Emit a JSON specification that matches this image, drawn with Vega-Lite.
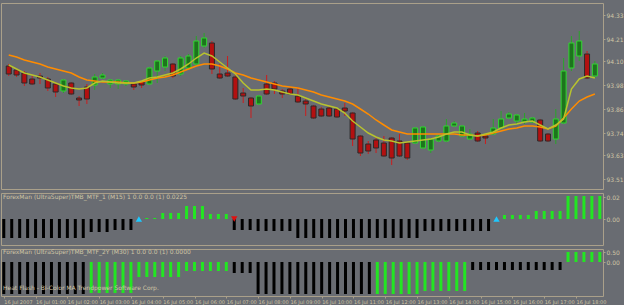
{
  "$schema": "https://vega.github.io/schema/vega-lite/v6.json",
  "background": "#696c72",
  "padding": {"left": 0, "top": 2, "right": 0, "bottom": 0},
  "spacing": 2,
  "config": {
    "view": {"stroke": "#aaa08a", "strokeWidth": 1},
    "axis": {"domain": false, "grid": false, "title": null, "tickColor": "#aaa08a", "tickSize": 2, "labelColor": "#cfc5a5", "labelFont": "DejaVu Sans", "labelFontSize": 6, "labelPadding": 1, "labelOverlap": false, "tickCount": 40},
    "text": {"font": "DejaVu Sans", "fontSize": 6}
  },
  "datasets": {
    "bars": [
      {"i":0,"o":94.075,"h":94.085,"l":94.025,"c":94.035,"fast":94.08,"slow":94.13,"t1":-0.019,"k1":"b","t2":-1.6,"k2":"b"},
      {"i":1,"o":94.055,"h":94.065,"l":94.02,"c":94.03,"fast":94.06,"slow":94.12,"t1":-0.019,"k1":"b","t2":-1.6,"k2":"b"},
      {"i":2,"o":94.04,"h":94.05,"l":93.975,"c":93.99,"fast":94.04,"slow":94.105,"t1":-0.019,"k1":"b","t2":-1.6,"k2":"b"},
      {"i":3,"o":94.01,"h":94.025,"l":93.98,"c":93.985,"fast":94.03,"slow":94.095,"t1":-0.019,"k1":"b","t2":-1.6,"k2":"b"},
      {"i":4,"o":94.025,"h":94.04,"l":93.985,"c":94.015,"fast":94.02,"slow":94.085,"t1":-0.019,"k1":"b","t2":-1.6,"k2":"b"},
      {"i":5,"o":94.01,"h":94.02,"l":93.95,"c":93.965,"fast":94.005,"slow":94.07,"t1":-0.019,"k1":"b","t2":-1.6,"k2":"b"},
      {"i":6,"o":93.985,"h":93.995,"l":93.92,"c":93.945,"fast":93.99,"slow":94.06,"t1":-0.019,"k1":"b","t2":-1.6,"k2":"b"},
      {"i":7,"o":93.95,"h":94.01,"l":93.94,"c":94.005,"fast":93.975,"slow":94.05,"t1":-0.019,"k1":"b","t2":-1.6,"k2":"b"},
      {"i":8,"o":93.99,"h":93.995,"l":93.93,"c":93.935,"fast":93.965,"slow":94.04,"t1":-0.019,"k1":"b","t2":-1.6,"k2":"b"},
      {"i":9,"o":93.915,"h":93.925,"l":93.875,"c":93.905,"fast":93.96,"slow":94.02,"t1":-0.019,"k1":"b","t2":-1.6,"k2":"b"},
      {"i":10,"o":93.97,"h":93.985,"l":93.885,"c":93.91,"fast":93.965,"slow":94.005,"t1":-0.019,"k1":"b","t2":-1.6,"k2":"b"},
      {"i":11,"o":93.98,"h":94.035,"l":93.955,"c":94.02,"fast":93.99,"slow":94.0,"t1":-0.013,"k1":"b","t2":-1.55,"k2":"g"},
      {"i":12,"o":94.015,"h":94.04,"l":94.01,"c":94.03,"fast":94.0,"slow":93.995,"t1":-0.013,"k1":"b","t2":-1.55,"k2":"g"},
      {"i":13,"o":93.985,"h":94.01,"l":93.965,"c":94.005,"fast":93.995,"slow":93.995,"t1":-0.013,"k1":"b","t2":-1.55,"k2":"g"},
      {"i":14,"o":93.985,"h":94.01,"l":93.96,"c":94.005,"fast":93.99,"slow":93.995,"t1":-0.011,"k1":"b","t2":-1.55,"k2":"g"},
      {"i":15,"o":93.985,"h":94.005,"l":93.975,"c":94.0,"fast":93.99,"slow":93.99,"t1":-0.011,"k1":"b","t2":-1.55,"k2":"g"},
      {"i":16,"o":93.985,"h":93.99,"l":93.955,"c":93.97,"fast":93.99,"slow":93.99,"t1":-0.011,"k1":"b","t2":-1.55,"k2":"g"},
      {"i":17,"o":93.995,"h":94.0,"l":93.965,"c":93.98,"fast":94.0,"slow":93.995,"t1":0,"k1":"b","t2":-0.75,"k2":"g"},
      {"i":18,"o":93.985,"h":94.07,"l":93.98,"c":94.065,"fast":94.015,"slow":94.005,"t1":0.001,"k1":"g","t2":-0.75,"k2":"g"},
      {"i":19,"o":94.05,"h":94.105,"l":93.99,"c":94.1,"fast":94.02,"slow":94.015,"t1":0.001,"k1":"g","t2":-0.75,"k2":"g"},
      {"i":20,"o":94.07,"h":94.125,"l":94.05,"c":94.115,"fast":94.03,"slow":94.02,"t1":0.006,"k1":"g","t2":-0.75,"k2":"g"},
      {"i":21,"o":94.085,"h":94.09,"l":94.015,"c":94.025,"fast":94.04,"slow":94.03,"t1":0.006,"k1":"g","t2":-0.75,"k2":"g"},
      {"i":22,"o":94.035,"h":94.125,"l":94.025,"c":94.115,"fast":94.06,"slow":94.045,"t1":0.006,"k1":"g","t2":-0.75,"k2":"g"},
      {"i":23,"o":94.065,"h":94.135,"l":94.06,"c":94.125,"fast":94.085,"slow":94.06,"t1":0.013,"k1":"g","t2":-0.45,"k2":"g"},
      {"i":24,"o":94.085,"h":94.225,"l":94.075,"c":94.2,"fast":94.115,"slow":94.075,"t1":0.013,"k1":"g","t2":-0.45,"k2":"g"},
      {"i":25,"o":94.175,"h":94.24,"l":94.165,"c":94.215,"fast":94.14,"slow":94.085,"t1":0.013,"k1":"g","t2":-0.45,"k2":"g"},
      {"i":26,"o":94.19,"h":94.2,"l":94.035,"c":94.06,"fast":94.125,"slow":94.085,"t1":0.005,"k1":"g","t2":-0.45,"k2":"g"},
      {"i":27,"o":94.035,"h":94.085,"l":94.01,"c":94.015,"fast":94.095,"slow":94.075,"t1":0.005,"k1":"g","t2":-0.45,"k2":"g"},
      {"i":28,"o":94.04,"h":94.125,"l":94.02,"c":94.025,"fast":94.065,"slow":94.06,"t1":0.005,"k1":"g","t2":-0.45,"k2":"g"},
      {"i":29,"o":94.02,"h":94.035,"l":93.905,"c":93.91,"fast":94.035,"slow":94.04,"t1":-0.011,"k1":"b","t2":-0.55,"k2":"b"},
      {"i":30,"o":93.94,"h":93.965,"l":93.89,"c":93.925,"fast":93.99,"slow":94.03,"t1":-0.011,"k1":"b","t2":-0.55,"k2":"b"},
      {"i":31,"o":93.915,"h":93.92,"l":93.815,"c":93.875,"fast":93.955,"slow":94.015,"t1":-0.011,"k1":"b","t2":-0.55,"k2":"b"},
      {"i":32,"o":93.885,"h":93.93,"l":93.88,"c":93.925,"fast":93.955,"slow":94.005,"t1":-0.012,"k1":"b","t2":-1.6,"k2":"b"},
      {"i":33,"o":93.985,"h":94.03,"l":93.93,"c":93.935,"fast":93.96,"slow":93.995,"t1":-0.012,"k1":"b","t2":-1.6,"k2":"b"},
      {"i":34,"o":93.99,"h":94.0,"l":93.935,"c":93.96,"fast":93.955,"slow":93.985,"t1":-0.012,"k1":"b","t2":-1.6,"k2":"b"},
      {"i":35,"o":93.95,"h":93.96,"l":93.915,"c":93.935,"fast":93.945,"slow":93.975,"t1":-0.012,"k1":"b","t2":-1.6,"k2":"b"},
      {"i":36,"o":93.96,"h":93.97,"l":93.93,"c":93.935,"fast":93.935,"slow":93.97,"t1":-0.012,"k1":"b","t2":-1.6,"k2":"b"},
      {"i":37,"o":93.925,"h":93.97,"l":93.89,"c":93.895,"fast":93.93,"slow":93.965,"t1":-0.019,"k1":"b","t2":-1.6,"k2":"b"},
      {"i":38,"o":93.9,"h":93.91,"l":93.825,"c":93.885,"fast":93.915,"slow":93.955,"t1":-0.019,"k1":"b","t2":-1.6,"k2":"b"},
      {"i":39,"o":93.875,"h":93.88,"l":93.81,"c":93.815,"fast":93.9,"slow":93.945,"t1":-0.019,"k1":"b","t2":-1.6,"k2":"b"},
      {"i":40,"o":93.86,"h":93.87,"l":93.82,"c":93.825,"fast":93.885,"slow":93.93,"t1":-0.019,"k1":"b","t2":-1.6,"k2":"b"},
      {"i":41,"o":93.865,"h":93.875,"l":93.82,"c":93.825,"fast":93.875,"slow":93.92,"t1":-0.019,"k1":"b","t2":-1.6,"k2":"b"},
      {"i":42,"o":93.86,"h":93.865,"l":93.815,"c":93.82,"fast":93.865,"slow":93.91,"t1":-0.019,"k1":"b","t2":-1.6,"k2":"b"},
      {"i":43,"o":93.865,"h":93.89,"l":93.825,"c":93.85,"fast":93.84,"slow":93.9,"t1":-0.019,"k1":"b","t2":-1.6,"k2":"b"},
      {"i":44,"o":93.84,"h":93.845,"l":93.675,"c":93.71,"fast":93.8,"slow":93.885,"t1":-0.019,"k1":"b","t2":-1.6,"k2":"b"},
      {"i":45,"o":93.725,"h":93.73,"l":93.625,"c":93.64,"fast":93.77,"slow":93.86,"t1":-0.019,"k1":"b","t2":-1.6,"k2":"b"},
      {"i":46,"o":93.685,"h":93.7,"l":93.635,"c":93.65,"fast":93.74,"slow":93.835,"t1":-0.019,"k1":"b","t2":-1.6,"k2":"b"},
      {"i":47,"o":93.705,"h":93.715,"l":93.64,"c":93.665,"fast":93.72,"slow":93.805,"t1":-0.019,"k1":"b","t2":-1.6,"k2":"g"},
      {"i":48,"o":93.69,"h":93.725,"l":93.62,"c":93.625,"fast":93.705,"slow":93.78,"t1":-0.019,"k1":"b","t2":-1.6,"k2":"g"},
      {"i":49,"o":93.715,"h":93.72,"l":93.58,"c":93.615,"fast":93.7,"slow":93.755,"t1":-0.019,"k1":"b","t2":-1.6,"k2":"g"},
      {"i":50,"o":93.7,"h":93.735,"l":93.62,"c":93.625,"fast":93.69,"slow":93.745,"t1":-0.019,"k1":"b","t2":-1.6,"k2":"g"},
      {"i":51,"o":93.69,"h":93.695,"l":93.605,"c":93.615,"fast":93.695,"slow":93.735,"t1":-0.019,"k1":"b","t2":-1.6,"k2":"g"},
      {"i":52,"o":93.69,"h":93.77,"l":93.685,"c":93.765,"fast":93.7,"slow":93.735,"t1":-0.019,"k1":"b","t2":-1.6,"k2":"g"},
      {"i":53,"o":93.665,"h":93.775,"l":93.66,"c":93.77,"fast":93.705,"slow":93.735,"t1":-0.012,"k1":"b","t2":-1.45,"k2":"g"},
      {"i":54,"o":93.655,"h":93.715,"l":93.64,"c":93.71,"fast":93.71,"slow":93.735,"t1":-0.012,"k1":"b","t2":-1.45,"k2":"g"},
      {"i":55,"o":93.7,"h":93.73,"l":93.695,"c":93.725,"fast":93.72,"slow":93.735,"t1":-0.012,"k1":"b","t2":-1.45,"k2":"g"},
      {"i":56,"o":93.7,"h":93.81,"l":93.695,"c":93.775,"fast":93.735,"slow":93.735,"t1":-0.012,"k1":"b","t2":-1.45,"k2":"g"},
      {"i":57,"o":93.775,"h":93.8,"l":93.77,"c":93.79,"fast":93.745,"slow":93.735,"t1":-0.012,"k1":"b","t2":-1.45,"k2":"g"},
      {"i":58,"o":93.725,"h":93.78,"l":93.72,"c":93.775,"fast":93.745,"slow":93.73,"t1":-0.012,"k1":"b","t2":-1.45,"k2":"g"},
      {"i":59,"o":93.71,"h":93.76,"l":93.705,"c":93.735,"fast":93.73,"slow":93.73,"t1":-0.012,"k1":"b","t2":-0.4,"k2":"b"},
      {"i":60,"o":93.74,"h":93.75,"l":93.695,"c":93.7,"fast":93.725,"slow":93.725,"t1":-0.012,"k1":"b","t2":-0.4,"k2":"b"},
      {"i":61,"o":93.725,"h":93.735,"l":93.685,"c":93.715,"fast":93.735,"slow":93.73,"t1":-0.012,"k1":"b","t2":-0.4,"k2":"b"},
      {"i":62,"o":93.735,"h":93.81,"l":93.73,"c":93.765,"fast":93.745,"slow":93.74,"t1":0,"k1":"b","t2":-0.4,"k2":"b"},
      {"i":63,"o":93.765,"h":93.85,"l":93.76,"c":93.81,"fast":93.765,"slow":93.75,"t1":0.004,"k1":"g","t2":-0.4,"k2":"b"},
      {"i":64,"o":93.815,"h":93.845,"l":93.81,"c":93.835,"fast":93.78,"slow":93.76,"t1":0.004,"k1":"g","t2":-0.4,"k2":"b"},
      {"i":65,"o":93.8,"h":93.835,"l":93.785,"c":93.83,"fast":93.785,"slow":93.765,"t1":0.004,"k1":"g","t2":-0.4,"k2":"b"},
      {"i":66,"o":93.795,"h":93.84,"l":93.785,"c":93.81,"fast":93.795,"slow":93.775,"t1":0.004,"k1":"g","t2":-0.4,"k2":"b"},
      {"i":67,"o":93.795,"h":93.82,"l":93.79,"c":93.815,"fast":93.8,"slow":93.775,"t1":0.008,"k1":"g","t2":-0.4,"k2":"b"},
      {"i":68,"o":93.805,"h":93.81,"l":93.695,"c":93.7,"fast":93.78,"slow":93.77,"t1":0.008,"k1":"g","t2":-0.4,"k2":"b"},
      {"i":69,"o":93.735,"h":93.74,"l":93.695,"c":93.7,"fast":93.76,"slow":93.76,"t1":0.008,"k1":"g","t2":-0.4,"k2":"b"},
      {"i":70,"o":93.71,"h":93.86,"l":93.685,"c":93.81,"fast":93.78,"slow":93.775,"t1":0.008,"k1":"g","t2":-0.4,"k2":"b"},
      {"i":71,"o":93.79,"h":94.115,"l":93.785,"c":94.05,"fast":93.81,"slow":93.815,"t1":0.023,"k1":"g","t2":0.5,"k2":"g"},
      {"i":72,"o":94.065,"h":94.225,"l":94.05,"c":94.19,"fast":93.96,"slow":93.86,"t1":0.023,"k1":"g","t2":0.5,"k2":"g"},
      {"i":73,"o":94.125,"h":94.25,"l":94.1,"c":94.2,"fast":94.01,"slow":93.9,"t1":0.023,"k1":"g","t2":0.5,"k2":"g"},
      {"i":74,"o":94.135,"h":94.15,"l":94.01,"c":94.015,"fast":94.025,"slow":93.92,"t1":0.023,"k1":"g","t2":0.5,"k2":"g"},
      {"i":75,"o":94.025,"h":94.1,"l":94.015,"c":94.085,"fast":94.015,"slow":93.935,"t1":0.023,"k1":"g","t2":0.5,"k2":"g"}
    ],
    "arrows": [
      {"i":17,"dir":"up"},
      {"i":29,"dir":"down"},
      {"i":62,"dir":"up"}
    ]
  },
  "vconcat": [
    {
      "width": 602,
      "height": 186,
      "data": {"name": "bars"},
      "encoding": {
        "x": {"field": "i", "type": "quantitative", "scale": {"domain": [-0.35, 75.4], "nice": false, "zero": false}, "axis": null}
      },
      "layer": [
        {
          "mark": {"type": "rule", "strokeWidth": 1, "clip": true},
          "encoding": {
            "y": {"field": "l", "type": "quantitative", "scale": {"domain": [93.46, 94.39], "nice": false, "zero": false},
              "axis": {"orient": "right", "values": [94.33, 94.21, 94.10, 93.98, 93.86, 93.74, 93.63, 93.51], "tickCount": 40, "format": ".2f", "labelOverlap": false, "labelBound": false}},
            "y2": {"field": "h"},
            "color": {"condition": {"test": "datum.c >= datum.o", "value": "#2aa52a"}, "value": "#cc1e1e"}
          }
        },
        {
          "mark": {"type": "bar", "width": 5, "strokeWidth": 1, "clip": true},
          "encoding": {
            "y": {"field": "o", "type": "quantitative"},
            "y2": {"field": "c"},
            "fill": {"condition": {"test": "datum.c >= datum.o", "value": "#1d741d"}, "value": "#b31010"},
            "stroke": {"condition": {"test": "datum.c >= datum.o", "value": "#33d633"}, "value": "#2a2a2a"}
          }
        },
        {
          "mark": {"type": "line", "color": "#ff8c00", "strokeWidth": 1.5, "clip": true},
          "encoding": {"y": {"field": "slow", "type": "quantitative"}}
        },
        {
          "mark": {"type": "line", "color": "#b8c22e", "strokeWidth": 1.5, "clip": true},
          "encoding": {"y": {"field": "fast", "type": "quantitative"}}
        },
        {
          "data": {"values": [{"t": "USDJPY,M15 94.23 94.27 94.16 94.18"}]},
          "mark": {"type": "text", "align": "left", "baseline": "top", "color": "#cfc5a5"},
          "encoding": {"x": {"datum": -0.1}, "y": {"datum": 94.385}, "text": {"field": "t"}}
        },
        {
          "data": {"values": [{"t": "EMA(Sideways) 1.13, 8, 8, 8, 13"}]},
          "mark": {"type": "text", "align": "left", "baseline": "top", "color": "#cfc5a5"},
          "encoding": {"x": {"datum": -0.1}, "y": {"datum": 94.355}, "text": {"field": "t"}}
        },
        {
          "data": {"values": [{"t": "Stretch 1.23"}]},
          "mark": {"type": "text", "align": "left", "baseline": "bottom", "color": "#e0e000"},
          "encoding": {"x": {"datum": -0.1}, "y": {"datum": 93.465}, "text": {"field": "t"}}
        }
      ]
    },
    {
      "width": 602,
      "height": 52,
      "layer": [
        {
          "data": {"name": "bars"},
          "mark": {"type": "rule", "strokeWidth": 3, "clip": true},
          "encoding": {
            "x": {"field": "i", "type": "quantitative", "scale": {"domain": [-0.35, 75.4], "nice": false, "zero": false}, "axis": null},
            "y": {"field": "t1", "type": "quantitative", "scale": {"domain": [-0.026, 0.026], "nice": false, "zero": false},
              "axis": {"orient": "right", "values": [0.022, 0], "tickCount": 40, "labelOverlap": false, "format": ".2f"}},
            "y2": {"datum": 0},
            "color": {"field": "k1", "type": "nominal", "scale": {"domain": ["g", "b"], "range": ["#22e622", "#000000"]}, "legend": null}
          }
        },
        {
          "data": {"name": "arrows"},
          "transform": [{"filter": "datum.dir == 'up'"}],
          "mark": {"type": "point", "shape": "triangle-up", "filled": true, "size": 40, "color": "#1ec8ff", "opacity": 1},
          "encoding": {"x": {"field": "i", "type": "quantitative"}, "y": {"datum": 0}}
        },
        {
          "data": {"name": "arrows"},
          "transform": [{"filter": "datum.dir == 'down'"}],
          "mark": {"type": "point", "shape": "triangle-down", "filled": true, "size": 40, "color": "#e01010", "opacity": 1},
          "encoding": {"x": {"field": "i", "type": "quantitative"}, "y": {"datum": 0}}
        },
        {
          "data": {"values": [{"t": "ForexMan (UltraSuper)TMB_MTF_1 (M15) 1 0.0 0.0 (1) 0.0225"}]},
          "mark": {"type": "text", "align": "left", "baseline": "top", "color": "#cfc5a5"},
          "encoding": {"x": {"datum": -0.1}, "y": {"datum": 0.025}, "text": {"field": "t"}}
        }
      ]
    },
    {
      "width": 602,
      "height": 47,
      "layer": [
        {
          "data": {"name": "bars"},
          "mark": {"type": "rule", "strokeWidth": 3, "clip": true},
          "encoding": {
            "x": {"field": "i", "type": "quantitative", "scale": {"domain": [-0.35, 75.4], "nice": false, "zero": false},
              "axis": {"orient": "bottom", "values": [0,4,8,12,16,20,24,28,32,36,40,44,48,52,56,60,64,68,72], "tickCount": 40, "labelAlign": "left", "labelFontSize": 5, "labelPadding": 1, "labelOverlap": false, "labelBound": false,
                "labelExpr": "datum.value == 0 ? '16 Jul 2007' : '16 Jul ' + (datum.value < 40 ? '0' : '') + (datum.value / 4) + ':00'"}},
            "y": {"field": "t2", "type": "quantitative", "scale": {"domain": [-1.7, 0.65], "nice": false, "zero": false},
              "axis": {"orient": "right", "values": [0.5, 0], "tickCount": 40, "format": ".2f", "labelOverlap": false}},
            "y2": {"datum": 0},
            "color": {"field": "k2", "type": "nominal", "scale": {"domain": ["g", "b"], "range": ["#22e622", "#000000"]}, "legend": null}
          }
        },
        {
          "data": {"values": [{"t": "ForexMan (UltraSuper)TMB_MTF_2Y (M30) 1 0.0 0.0 (1) 0.0000"}]},
          "mark": {"type": "text", "align": "left", "baseline": "top", "color": "#cfc5a5"},
          "encoding": {"x": {"datum": -0.1}, "y": {"datum": 0.64}, "text": {"field": "t"}}
        },
        {
          "data": {"values": [{"t": "Heat Flash - Bi-Color MA Trendpower Software Corp."}]},
          "mark": {"type": "text", "align": "left", "baseline": "middle", "color": "#cfc5a5"},
          "encoding": {"x": {"datum": -0.1}, "y": {"datum": -1.3}, "text": {"field": "t"}}
        }
      ]
    }
  ]
}
